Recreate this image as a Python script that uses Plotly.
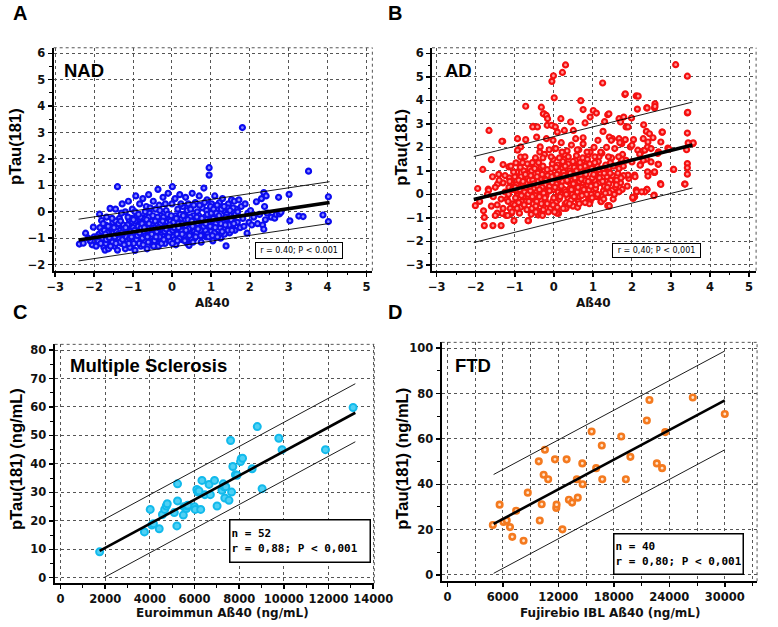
import plotly.graph_objects as go

# ---------------- DATA ----------------
# Panel A (NAD): standardized Aß40 vs pTau(181)
NAD_POINTS = [
    (-2.38,-1.22),(-2.28,-1.19),(-2.22,-0.81),(-2.02,-0.58),(-2.05,-1.25),(-2.1,-1.1),(-2.0,-0.95),(-2.15,-1.0),
    (-1.95,-1.3),(-1.9,-1.1),(-1.88,-0.85),(-1.85,-0.6),(-1.81,-0.33),(-1.86,-0.09),(-1.8,-0.75),(-1.78,-1.0),
    (-1.75,-1.35),(-1.72,-1.45),(-1.7,-0.5),(-1.68,-0.2),(-1.65,-0.9),(-1.62,-1.2),(-1.6,-0.65),(-1.59,0.13),
    (-1.63,-1.4),(-1.7,-1.2),
    (-1.55,-1.05),(-1.52,-0.4),(-1.5,-0.8),(-1.48,-1.3),(-1.45,0.1),(-1.42,-0.6),(-1.4,0.95),(-1.4,-1.45),
    (-1.38,-1.0),(-1.35,-0.25),(-1.33,-0.7),(-1.3,-1.2),(-1.28,0.3),(-1.25,-0.5),(-1.22,-0.9),(-1.2,-1.4),
    (-1.2,0.0),(-1.3,-0.05),(-1.45,-0.35),
    (-1.18,-0.75),(-1.15,-1.1),(-1.12,0.4),(-1.1,-0.3),(-1.08,-1.35),(-1.05,-0.55),(-1.02,0.1),(-1.0,-0.95),
    (-0.98,-1.2),(-0.95,-1.46),(-0.93,0.6),(-0.9,-0.15),(-0.88,-0.7),(-0.85,-1.0),(-0.83,0.3),(-0.82,-0.45),
    (-0.8,-1.3),(-1.0,-0.6),(-0.95,0.0),(-1.1,-0.85),
    (-0.78,-0.85),(-0.75,0.5),(-0.73,-0.25),(-0.7,-1.1),(-0.68,-0.55),(-0.66,0.2),(-0.64,-1.4),(-0.62,-0.7),
    (-0.6,0.65),(-0.58,-0.05),(-0.55,-0.95),(-0.53,-0.35),(-0.5,-1.25),(-0.48,0.4),(-0.46,-0.6),(-0.44,-0.8),
    (-0.42,0.1),(-0.4,-1.05),(-0.7,-0.4),(-0.6,-0.2),
    (-0.38,-0.45),(-0.36,0.85),(-0.35,-1.3),(-0.33,0.25),(-0.3,-0.7),(-0.28,-0.15),(-0.25,-1.0),(-0.23,0.55),
    (-0.2,-0.5),(-0.18,-1.2),(-0.15,0.05),(-0.13,-0.8),(-0.1,0.7),(-0.08,-0.3),(-0.05,-1.1),(-0.03,-0.6),
    (0.0,0.3),(0.01,0.95),(-0.2,-0.9),(-0.12,-0.4),
    (0.03,-0.95),(0.05,-0.2),(0.08,0.5),(0.1,-1.25),(0.12,-0.55),(0.15,0.1),(0.18,-0.75),(0.2,0.65),
    (0.22,-0.35),(0.25,-1.05),(0.28,0.2),(0.3,-0.6),(0.32,-0.1),(0.35,0.55),(0.38,-0.85),(0.4,-1.2),
    (0.1,-0.4),(0.25,-0.25),
    (0.42,0.3),(0.44,-1.27),(0.46,-0.45),(0.5,-0.8),(0.52,0.7),(0.55,-0.15),(0.58,-1.0),(0.6,0.35),
    (0.62,-0.55),(0.65,0.0),(0.68,-0.9),(0.7,0.6),(0.72,-0.3),(0.75,-1.15),(0.78,0.15),(0.8,-0.65),
    (0.55,-0.4),(0.7,-0.5),
    (0.82,0.9),(0.85,-0.2),(0.88,-0.95),(0.9,0.45),(0.93,-0.5),(0.955,1.67),(0.955,1.39),(0.97,-0.1),
    (1.0,-0.75),(1.02,0.3),(1.05,-1.1),(1.08,-0.4),(1.1,0.6),(1.12,-0.2),(1.15,-0.85),(1.18,0.1),
    (1.2,-0.55),(0.9,-0.3),
    (1.22,0.35),(1.25,-1.0),(1.28,-0.3),(1.3,0.5),(1.33,-0.65),(1.36,0.0),(1.39,-1.29),(1.42,-0.45),
    (1.45,0.3),(1.48,-0.8),(1.5,-0.15),(1.53,0.45),(1.55,-0.55),(1.58,-0.2),(1.6,0.4),(1.4,-0.1),
    (1.62,-0.7),(1.65,0.1),(1.68,-0.4),(1.72,0.45),(1.75,-0.6),(1.78,0.2),(1.81,3.19),(1.82,-0.25),
    (1.85,-0.55),(1.88,0.3),(1.93,-0.81),(1.95,-0.05),(1.98,-0.4),
    (2.02,0.05),(2.05,-0.5),(2.1,-0.2),(2.17,0.38),(2.2,-0.45),(2.25,-0.1),(2.3,0.5),(2.33,-0.5),
    (2.36,0.73),(2.36,-0.66),(2.38,0.2),(2.4,-0.3),(2.42,0.6),(2.45,-0.05),
    (2.55,-0.2),(2.64,-0.24),(2.68,-0.1),(2.74,0.55),(2.76,-0.08),(2.8,-0.02),(3.01,0.66),(3.03,-0.34),
    (3.26,-0.16),(3.37,-0.18),(3.51,1.54),(3.88,-0.12),(4.02,0.57),(4.02,-0.37),
    # dense core
    (-1.74,-0.7),(-1.69,-1.05),(-1.66,-0.8),(-1.61,-0.98),
    (-1.57,-0.6),(-1.53,-1.15),(-1.47,-0.95),(-1.43,-0.75),(-1.37,-0.45),(-1.34,-1.15),
    (-1.27,-1.05),(-1.24,-0.65),(-1.17,-0.95),(-1.14,-0.5),(-1.11,-1.2),(-1.06,-0.75),(-1.03,-0.25),
    (-0.97,-0.8),(-0.94,-0.35),(-0.91,-1.05),(-0.87,-0.55),(-0.84,-1.2),(-0.81,-0.2),(-0.79,-0.6),
    (-0.76,-1.0),(-0.72,-0.75),(-0.67,-0.9),(-0.65,-0.3),(-0.61,-1.15),(-0.57,-0.6),(-0.52,-0.85),(-0.49,-0.15),(-0.45,-1.1),
    (-0.39,-0.75),(-0.37,-0.2),(-0.32,-0.95),(-0.29,-0.45),(-0.26,-0.65),(-0.22,-0.2),(-0.19,-0.75),(-0.16,-1.0),
    (-0.14,-0.55),(-0.11,-0.1),(-0.07,-0.8),(-0.04,-0.35),
    (0.02,-0.7),(0.04,-0.4),(0.07,-1.05),(0.09,-0.15),(0.13,-0.85),(0.16,-0.45),(0.19,-1.0),(0.21,-0.1),
    (0.24,-0.7),(0.27,-0.45),(0.31,-0.9),(0.34,-0.3),(0.37,-0.55),(0.39,0.05),
    (0.43,-0.65),(0.47,-0.2),(0.49,-1.0),(0.53,-0.55),(0.57,-0.75),(0.59,-0.3),(0.63,-0.8),(0.66,-0.45),
    (0.69,-0.15),(0.73,-0.7),(0.76,-0.4),(0.79,-0.9),
    (0.83,-0.4),(0.86,-0.7),(0.89,0.05),(0.92,-0.85),(0.96,-0.35),(0.99,0.2),(1.03,-0.55),(1.06,-0.25),
    (1.09,-0.8),(1.13,-0.45),(1.16,0.25),(1.19,-0.3),
    (1.24,-0.6),(1.27,0.1),(1.31,-0.4),(1.35,-0.85),(1.38,-0.2),(1.43,0.15),(1.47,-0.5),(1.52,-0.3),(1.57,0.15),
    (-1.92,-0.95),(-1.83,-1.2),(-1.77,-0.45),(-1.71,-0.85),(-1.64,-0.55),(-1.58,-1.3),(-1.54,-0.25),(-1.49,-0.6),
    (-1.44,-1.2),(-1.39,-0.85),(-1.32,-0.35),(-1.29,-0.8),(-1.23,-1.25),(-1.19,-0.6),(-1.13,-0.2),(-1.09,-1.0),
    (-1.04,-0.95),(-0.99,-0.3),(-0.96,-0.7),(-0.89,-0.9),(-0.86,-0.1),(-0.83,-0.8),(-0.77,-0.45),(-0.74,-1.25),
    (-0.71,-0.6),(-0.69,0.0),(-0.63,-0.95),(-0.59,-0.45),(-0.56,0.15),(-0.51,-0.65),(-0.47,-1.3),(-0.43,-0.35),
    (-0.41,-0.95),(-0.34,-0.6),(-0.31,0.05),(-0.27,-1.2),(-0.24,-0.35),(-0.21,-1.05),(-0.17,0.3),(-0.15,-0.65),
    (-0.09,-0.95),(-0.06,-0.5),(-0.02,-0.15),(0.01,-1.2),(0.06,-0.6),(0.11,-0.25),(0.14,-1.1),(0.17,-0.6),
    (0.23,0.3),(0.26,-0.85),(0.29,-0.15),(0.33,-1.1),(0.36,-0.7),(0.41,-0.3),(0.45,-0.9),(0.48,0.1),
    (0.51,-0.35),(0.54,-1.15),(0.56,0.25),(0.61,-0.95),(0.64,-0.2),(0.67,-0.65),(0.71,0.25),(0.74,-0.9),
    (0.77,-0.25),(0.81,-0.55),(0.84,0.35),(0.87,-0.45),(0.91,-0.1),(0.94,-0.95),(0.98,-0.55),(1.01,-0.05),
    (1.04,-0.9),(1.07,0.1),(1.11,-0.6),(1.14,-0.05),(1.17,-0.95),(1.21,-0.15),(1.26,-0.45),(1.29,-0.75),
    (1.34,0.2),(1.37,-0.5),(1.44,-0.7),(1.49,0.05),(1.54,-0.7),(1.59,-0.45),(1.63,-0.1),(1.69,0.0),
]

# Panel B (AD)
AD_POINTS = [
    # outliers / edges
    (-2.01,-0.48),(-1.82,1.06),(-1.78,-0.98),(-1.68,0.22),(-1.66,2.72),(-1.6,1.48),(-1.56,-1.33),(-1.78,-1.33),
    (-1.35,-1.33),(-1.31,2.26),(-0.72,3.75),(-0.32,3.71),(-0.25,3.43),(-0.53,2.89),(-0.05,4.81),(-0.01,5.05),
    (0.01,4.11),(0.22,5.19),(0.30,5.51),(0.69,3.99),(1.25,4.74),(1.82,4.25),(2.11,4.19),(2.16,4.18),
    (2.58,3.68),(2.38,3.68),(3.12,5.52),(3.42,5.03),(3.42,3.47),(3.42,2.61),(3.42,1.31),(3.42,1.13),
    (3.42,0.86),(3.35,0.44),(3.56,2.16),(3.48,2.16),(3.06,1.06),(2.92,1.97),(2.77,2.65),(2.73,0.46),
    (2.67,1.28),(2.57,0.93),(2.57,-0.03),(2.38,0.21),(2.11,0.18),(2.03,-0.17),(2.07,0.82),(1.74,2.16),
    (1.21,-0.31),(1.41,-0.48),(0.12,-0.81),(-0.4,-0.88),(-0.65,-1.12),(-1.02,-1.12),(0.49,-0.5),
    (-0.27,3.43),(-0.19,3.36),(-0.16,3.22),(0.75,3.61),(1.01,3.57),(1.09,3.46),(0.80,3.04),(0.93,3.29),
    (1.38,3.39),(1.30,3.10),(1.26,2.68),(-0.54,2.87),(-0.42,2.87),(-0.17,2.94),(-0.06,2.94),(0.04,2.87),
    (0.18,3.22),(0.09,2.65),(0.27,2.72),(0.43,3.08),(0.50,2.72),(0.56,2.37),(0.75,2.41),(0.02,1.95),
    (-0.02,2.3),(-0.44,2.44),(-0.35,2.02),(-0.19,2.37),(-0.93,2.37),(-0.72,2.33),(-0.85,2.02),(-1.33,2.26),
    (-0.93,1.88),(-0.85,1.59),(-1.3,1.27),(-1.15,1.17),(-0.97,1.34),(-1.57,0.75),(-1.41,0.85),(-1.44,0.44),
    (-1.3,0.49),(-1.14,0.70),(-1.55,-0.1),(-1.67,0.18),(-1.45,-0.45),(-1.32,-0.81),(-1.09,-0.81),(-0.66,-1.12),
    (-0.34,-0.85),(0.08,-0.8),(0.35,-0.48),(0.93,-0.31),(1.38,-0.48),
    (1.83,4.28),(2.14,3.63),(2.39,3.68),(2.59,3.85),(2.59,3.74),(3.43,3.49),(3.44,2.19),(3.57,2.19),
    (3.40,1.9),(3.07,1.06),(3.36,0.44),(2.74,0.42),(2.78,2.65),(2.95,1.92),(2.74,2.23),(2.68,1.81),
    (2.68,1.28),(2.58,0.93),(2.56,-0.06),(2.39,0.21),(2.33,0.11),(2.25,0.11),(2.12,0.11),(2.07,-0.1),
    (2.4,0.96),(2.41,0.78),(2.58,0.96),(2.30,2.96),(2.37,2.68),(2.45,2.58),(2.54,2.41),(1.67,3.22),
    (1.79,3.29),(1.99,3.25),(1.85,2.87),(1.9,2.87),(1.41,3.43),(1.71,3.08),(2.22,1.27),(2.25,1.83),
    (2.33,1.88),(2.4,2.02),(2.29,2.37),(2.41,2.23),(2.04,2.33),(1.83,2.33),(1.67,2.37),(1.5,2.37),
    (1.42,2.44),(1.96,2.02),(2.0,2.09),(2.15,1.88),(2.2,1.71),(2.49,1.95),(2.66,1.74),(2.49,1.38),
    (2.37,1.5),(2.21,1.24),(2.29,1.45),(2.0,1.38),(1.85,1.45),(1.92,0.68),(2.08,0.75),(1.9,0.82),
    (1.88,0.35),(1.75,0.21),(1.67,0.11),(1.5,0.18),(1.42,0.07),(1.71,0.49),(1.59,0.54),(1.46,0.61),
    (1.42,-0.5),(2.02,-0.13),
    # left region
    (-1.9,-0.3),(-1.8,-0.7),(-1.7,0.0),(-1.6,-0.5),(-1.5,0.3),(-1.45,-0.8),(-1.4,0.6),(-1.35,-0.2),
    (-1.3,-0.6),(-1.25,0.8),(-1.25,0.1),(-1.22,-0.9),(-1.5,-0.9),(-1.95,0.25),
    # dense core
    (-1.18,-0.9),(-1.12,-0.6),(-1.05,-0.4),(-0.98,-0.15),(-0.93,0.05),(-1.15,0.3),(-1.08,0.5),(-1.0,0.75),
    (-0.95,0.95),(-1.1,1.2),(-1.0,-0.45),(-0.92,0.15),(-1.2,-0.2),(-1.16,0.0),(-0.96,0.4),
    (-0.88,-0.8),(-0.85,-0.55),(-0.82,-0.3),(-0.78,-0.1),(-0.75,0.1),(-0.72,0.3),(-0.7,0.5),(-0.67,0.7),
    (-0.65,0.9),(-0.62,1.1),(-0.8,1.35),(-0.74,1.6),(-0.69,-0.65),(-0.87,0.2),(-0.63,0.6),(-0.84,0.75),
    (-0.77,1.0),(-0.66,0.0),
    (-0.58,-0.85),(-0.56,-0.6),(-0.53,-0.4),(-0.5,-0.2),(-0.48,0.0),(-0.45,0.15),(-0.43,0.35),(-0.4,0.55),
    (-0.38,0.75),(-0.35,0.95),(-0.33,1.15),(-0.55,1.35),(-0.47,1.55),(-0.36,1.8),(-0.42,-0.7),(-0.52,0.25),
    (-0.31,0.65),(-0.57,1.0),(-0.44,-0.3),(-0.34,0.05),
    (-0.29,-0.9),(-0.27,-0.65),(-0.25,-0.45),(-0.22,-0.25),(-0.2,-0.05),(-0.18,0.1),(-0.15,0.3),(-0.13,0.5),
    (-0.1,0.7),(-0.08,0.9),(-0.06,1.1),(-0.04,1.3),(-0.02,1.5),(-0.24,1.7),(-0.12,1.9),(-0.03,-0.3),
    (-0.21,0.4),(-0.16,0.8),(-0.28,1.2),(-0.09,-0.6),(-0.01,0.2),(-0.26,0.05),
    (0.02,-0.75),(0.04,-0.5),(0.07,-0.3),(0.09,-0.1),(0.11,0.1),(0.13,0.3),(0.15,0.5),(0.17,0.7),
    (0.2,0.9),(0.22,1.1),(0.24,1.3),(0.26,1.5),(0.28,1.7),(0.05,1.95),(0.19,2.2),(0.27,0.2),
    (0.01,0.6),(0.12,1.0),(0.23,1.4),(0.29,-0.4),(0.08,0.85),(0.18,0.0),
    (0.31,-0.6),(0.33,-0.35),(0.36,-0.15),(0.38,0.05),(0.41,0.25),(0.43,0.45),(0.46,0.65),(0.48,0.85),
    (0.51,1.05),(0.53,1.25),(0.55,1.45),(0.58,1.65),(0.34,1.85),(0.45,2.1),(0.57,0.35),(0.39,0.75),
    (0.52,1.15),(0.59,-0.2),(0.37,1.3),(0.47,0.0),
    (0.61,-0.55),(0.63,-0.3),(0.66,-0.1),(0.68,0.1),(0.71,0.3),(0.73,0.5),(0.76,0.7),(0.78,0.9),
    (0.81,1.1),(0.83,1.3),(0.86,1.5),(0.88,1.7),(0.64,1.9),(0.75,2.15),(0.87,0.4),(0.69,0.8),
    (0.8,1.2),(0.89,-0.2),(0.65,0.55),(0.84,0.0),
    (0.91,-0.4),(0.94,-0.2),(0.96,0.0),(0.99,0.2),(1.01,0.4),(1.04,0.6),(1.06,0.8),(1.09,1.0),
    (1.11,1.2),(1.14,1.4),(1.16,1.6),(0.93,1.8),(1.03,2.0),(1.13,2.3),(1.18,0.5),(0.97,1.1),
    (1.19,0.9),(1.07,0.25),
    (1.21,-0.3),(1.24,-0.1),(1.27,0.15),(1.3,0.35),(1.33,0.55),(1.36,0.75),(1.39,0.95),(1.42,1.15),
    (1.45,1.35),(1.48,1.55),(1.23,1.75),(1.35,2.0),(1.47,2.3),(1.29,0.9),(1.41,0.45),
    (1.52,-0.2),(1.55,0.0),(1.58,0.3),(1.61,0.6),(1.64,0.9),(1.67,1.1),(1.7,1.3),(1.73,1.5),
    (1.76,1.7),(1.56,1.95),(1.69,2.2),(1.79,0.8),
    (-1.06,0.2),(-0.9,-0.35),(-0.8,0.45),(-0.71,-0.3),(-0.6,0.15),(-0.54,0.6),(-0.46,-0.5),(-0.41,0.9),
    (-0.37,-0.1),(-0.3,0.3),(-0.23,0.65),(-0.17,-0.4),(-0.11,0.35),(-0.05,0.75),(0.0,-0.15),(0.06,0.45),
    (0.1,1.25),(0.14,-0.2),(0.21,0.55),(0.25,0.95),(0.3,0.1),(0.35,0.55),(0.4,1.0),(0.44,-0.25),
    (0.5,0.45),(0.56,0.9),(0.6,0.1),(0.67,1.35),(0.72,-0.05),(0.79,0.6),(0.85,1.0),(0.9,0.2),
    (0.98,0.7),(1.05,1.35),(1.1,-0.1),(1.17,0.7),(1.26,1.1),(1.32,0.05),(1.4,1.6),(1.5,0.8),
    (-1.17,-0.3),(-1.13,0.55),(-1.07,-0.75),(-1.03,0.95),(-0.99,0.3),(-0.94,-0.6),(-0.9,0.6),(-0.86,1.15),
    (-0.83,-0.05),(-0.79,0.55),(-0.76,-0.45),(-0.73,0.85),(-0.68,1.3),(-0.64,-0.3),(-0.61,0.35),(-0.59,0.8),
    (-0.55,-0.1),(-0.51,0.45),(-0.49,1.1),(-0.46,-0.75),(-0.43,0.75),(-0.39,1.35),(-0.37,0.2),(-0.32,-0.4),
    (-0.3,0.85),(-0.28,1.55),(-0.23,-0.15),(-0.2,0.6),(-0.17,1.05),(-0.14,-0.75),(-0.11,0.15),(-0.07,1.6),
    (-0.04,0.5),(-0.02,-0.45),(0.03,0.3),(0.06,1.15),(0.09,-0.55),(0.12,0.65),(0.14,1.55),(0.16,-0.1),
    (0.19,0.35),(0.21,1.8),(0.24,-0.6),(0.26,0.8),(0.29,1.2),(0.32,0.0),(0.34,0.6),(0.37,1.6),
    (0.4,-0.4),(0.42,0.9),(0.45,0.2),(0.49,1.4),(0.52,-0.1),(0.54,0.7),(0.58,1.0),(0.6,1.9),
    (0.62,0.3),(0.65,-0.4),(0.68,1.15),(0.7,0.65),(0.74,1.55),(0.77,0.2),(0.8,-0.35),(0.82,0.85),
    (0.85,1.8),(0.88,0.55),(0.92,1.3),(0.95,0.35),(0.98,-0.15),(1.02,0.85),(1.05,1.6),(1.08,0.4),
    (1.12,0.0),(1.15,1.05),(1.2,1.8),(1.25,0.55),(1.28,-0.2),(1.33,1.25),(1.37,0.3),(1.44,0.9),
    (1.53,1.2),(1.6,0.4),(1.66,1.6),(1.72,0.7),(1.78,1.2),
]

# Panel C (Multiple Sclerosis): Euroimmun Aß40 vs pTau(181), ng/mL
MS_X = [1750, 3756, 4015, 4087, 4159, 4418, 4562, 4663, 4735, 4778, 5095, 5210, 5239, 5239,
        5527, 5498, 5642, 5671, 6002, 6031, 6103, 6146, 6276, 6333, 6463, 6650, 6708, 6895,
        7010, 7226, 7284, 7327, 7356, 7543, 7658, 7615, 7716, 7831, 7903, 8090, 8061, 8580,
        8810, 9026, 9775, 9919, 11863, 13101, 5700, 7400, 8150, 6200]
MS_Y = [9.1, 16.1, 24.0, 18.5, 19.0, 17.2, 22.2, 24.0, 25.2, 26.0, 22.9, 18.2, 33.0, 27.0,
        24.9, 22.0, 24.3, 25.2, 24.9, 24.0, 31.0, 30.1, 24.0, 34.2, 29.2, 32.8, 29.2, 34.2,
        25.2, 30.7, 33.0, 31.9, 28.0, 27.2, 30.1, 48.2, 39.1, 36.2, 36.0, 41.8, 40.8, 38.3,
        53.1, 31.3, 49.0, 45.0, 45.0, 59.8, 25.5, 32.0, 42.0, 30.5]

# Panel D (FTD): Fujirebio IBL Aß40 vs pTau(181), ng/mL
FTD_X = [4916, 5650, 6070, 6420, 6770, 7016, 7436, 8240, 8695, 9885, 9990, 10200, 10410, 10550,
         10900, 11635, 11775, 11810, 12440, 12895, 13140, 13490, 14000, 14100, 14590, 14625,
         15600, 16090, 16700, 16750, 18800, 19300, 19790, 21570, 21850, 22650, 23220, 23560,
         26540, 30000]
FTD_Y = [22.0, 31.0, 23.4, 24.0, 21.1, 16.8, 28.3, 15.1, 36.3, 50.1, 24.0, 31.2, 44.2, 55.2,
         42.2, 51.0, 29.6, 31.0, 20.1, 51.0, 33.2, 31.9, 42.2, 34.1, 49.2, 40.0, 63.3, 47.1,
         57.1, 42.2, 61.1, 42.2, 52.1, 68.1, 77.2, 49.2, 47.1, 63.0, 78.3, 71.0]

# Regression lines: intercept, slope, half-width of band, x start, x end
FIT_A = (-0.542, 0.22, 0.79, -2.4, 4.05)
FIT_B = (0.629, 0.414, 1.83, -2.05, 3.55)
FIT_C = (2.0, 0.00424, 10.2, 1750, 13200)
FIT_D = (11.6, 0.00218, 21.8, 5000, 30000)
LOWER_START = {"C": 1950}

STATS = {
    "A": "r = 0.40; P < 0.001",
    "B": "r = 0,40; P < 0,001",
    "C": "n = 52<br>r = 0,88; P < 0,001",
    "D": "n = 40<br>r = 0,80; P < 0,001",
}
GROUPS = {"A": "NAD", "B": "AD", "C": "Multiple Sclerosis", "D": "FTD"}

# ---------------- FIGURE ----------------
W, H = 778, 627


def px(x):
    return x / W


def py(y):
    return 1 - y / H


fig = go.Figure()

panels = [
    ("A", "x", "y", [p[0] for p in NAD_POINTS], [p[1] for p in NAD_POINTS], FIT_A,
     dict(symbol="circle", size=5, color="#8c8cff", line=dict(width=2.2, color="#0c0cf0"))),
    ("B", "x2", "y2", [p[0] for p in AD_POINTS], [p[1] for p in AD_POINTS], FIT_B,
     dict(symbol="circle", size=5, color="#ff9a9a", line=dict(width=2.2, color="#f51010"))),
    ("C", "x3", "y3", MS_X, MS_Y, FIT_C,
     dict(symbol="circle", size=7, color="#4fd0f4", line=dict(width=2, color="#12baec"))),
    ("D", "x4", "y4", FTD_X, FTD_Y, FIT_D,
     dict(symbol="circle", size=5.5, color="#ffe3cc", line=dict(width=2.6, color="#f47a1f"))),
]

for key, xa, ya, xs, ys, fit, mk in panels:
    b0, b1, band, x0, x1 = fit
    fig.add_trace(go.Scatter(x=xs, y=ys, mode="markers", marker=mk, xaxis=xa, yaxis=ya,
                             showlegend=False, hoverinfo="skip"))
    thick = 3.6 if key in ("A", "B") else 2.6
    fig.add_trace(go.Scatter(x=[x0, x1], y=[b0 + b1 * x0, b0 + b1 * x1], mode="lines",
                             line=dict(color="black", width=thick), xaxis=xa, yaxis=ya,
                             showlegend=False, hoverinfo="skip"))
    fig.add_trace(go.Scatter(x=[x0, x1], y=[b0 + b1 * x0 + band, b0 + b1 * x1 + band], mode="lines",
                             line=dict(color="black", width=0.9), xaxis=xa, yaxis=ya,
                             showlegend=False, hoverinfo="skip"))
    lx0 = LOWER_START.get(key, x0)
    fig.add_trace(go.Scatter(x=[lx0, x1], y=[b0 + b1 * lx0 - band, b0 + b1 * x1 - band], mode="lines",
                             line=dict(color="black", width=0.9), xaxis=xa, yaxis=ya,
                             showlegend=False, hoverinfo="skip"))

TICKFONT = dict(family="DejaVu Sans", size=11.5, color="#111", weight="bold")


def ax(domain, rng, dtick, minor_dtick, minor_grid=False, anchor=None):
    d = dict(domain=domain, range=rng, dtick=dtick, tick0=0, showline=True, linecolor="black",
             linewidth=2, ticks="outside", ticklen=4, tickwidth=1.5, tickcolor="black",
             showgrid=True, gridcolor="#555", griddash="dot", gridwidth=1, zeroline=False,
             tickfont=TICKFONT, fixedrange=True, tickformat="d",
             minor=dict(dtick=minor_dtick, tick0=0, ticks="outside", ticklen=2.5, tickwidth=1,
                        tickcolor="black", showgrid=minor_grid, gridcolor="#555", griddash="dot",
                        gridwidth=1))
    if anchor:
        d["anchor"] = anchor
    return d


dA_x = [px(48.3), px(378)]
dA_y = [py(271), py(47)]
dB_x = [px(439.7), px(775)]
dC_x = [px(49.3), px(380)]
dC_y = [py(585), py(345)]
dD_x = [px(449.7), px(776)]
dD_y = [py(583), py(343)]

fig.update_layout(
    width=W, height=H, autosize=False,
    margin=dict(l=0, r=0, t=0, b=0),
    paper_bgcolor="white", plot_bgcolor="white",
    showlegend=False,
    xaxis=ax(dA_x, [-3.04, 5.15], 1, 0.5, anchor="y"),
    yaxis=ax(dA_y, [-2.23, 6.21], 1, 0.5, anchor="x"),
    xaxis2=ax(dB_x, [-3.12, 5.18], 1, 0.5, anchor="y2"),
    yaxis2=ax(dA_y, [-3.25, 6.24], 1, 0.5, anchor="x2"),
    xaxis3=ax(dC_x, [-264, 14050], 2000, 1000, anchor="y3"),
    yaxis3=ax(dC_y, [-1.92, 82.0], 10, 5, anchor="x3"),
    xaxis4=ax(dD_x, [-617, 33490], 6000, 3000, minor_grid=True, anchor="y4"),
    yaxis4=ax(dD_y, [-2.77, 102.6], 20, 10, anchor="x4"),
)

# dotted frame on top and right side of each panel
shapes = []
for xa, ya in [("x", "y"), ("x2", "y2"), ("x3", "y3"), ("x4", "y4")]:
    for (a, b, c, d) in [(0, 1, 1, 1), (1, 1, 0, 1)]:
        shapes.append(dict(type="line", xref=f"{xa} domain", yref=f"{ya} domain",
                           x0=a, x1=b, y0=c, y1=d, line=dict(color="#555", width=1, dash="dot")))
fig.update_layout(shapes=shapes)

ann = []
LET = dict(family="Liberation Sans", size=20, color="black", weight="bold")
for t, x, y in [("A", 13, 12), ("B", 401, 12), ("C", 13, 312), ("D", 401, 312)]:
    ann.append(dict(text=t, x=px(x), y=py(y), xref="paper", yref="paper", showarrow=False,
                    xanchor="center", yanchor="middle", font=LET))

GF = dict(family="Liberation Sans", size=18.5, color="black", weight="bold")
for key, x, y in [("A", 57, 70), ("B", 451, 70), ("C", 63, 366), ("D", 461, 366)]:
    ann.append(dict(text=GROUPS[key], x=px(x), y=py(y), xref="paper", yref="paper",
                    showarrow=False, xanchor="left", yanchor="middle", font=GF))

YT = dict(family="Liberation Sans", size=16.5, color="black", weight="bold")
for t, x, y in [("pTau(181)", 9, 146), ("pTau(181)", 408, 147),
                ("pTau(181) (ng/mL)", 9.5, 460), ("pTau(181) (ng/mL)", 408.5, 460)]:
    ann.append(dict(text=t, x=px(x), y=py(y), xref="paper", yref="paper", showarrow=False,
                    textangle=-90, xanchor="center", yanchor="middle", font=YT))

XT = dict(family="DejaVu Sans", size=12, color="#111", weight="bold")
for t, x, y in [("Aß40", 213, 303), ("Aß40", 607, 303),
                ("Euroimmun Aß40 (ng/mL)", 222.5, 615), ("Fujirebio IBL Aß40 (ng/mL)", 624, 615)]:
    ann.append(dict(text=t, x=px(x), y=py(y), xref="paper", yref="paper", showarrow=False,
                    xanchor="center", yanchor="middle", font=XT))

SF = dict(family="DejaVu Sans", size=8, color="black")
for key, x, y, w, h in [("A", 302, 250.5, 88, 17), ("B", 671.5, 250.5, 89, 15)]:
    ann.append(dict(text=STATS[key], x=px(x), y=py(y), xref="paper", yref="paper",
                    showarrow=False, xanchor="center", yanchor="middle", font=SF,
                    bordercolor="black", borderwidth=1, borderpad=2, bgcolor="white",
                    width=w - 6, height=h - 6))
SF2 = dict(family="DejaVu Sans Mono", size=11, color="black", weight="bold")
for key, x, y, w, h in [("C", 303, 543, 142, 44), ("D", 694.2, 555.5, 131, 42)]:
    ann.append(dict(text=STATS[key], x=px(x), y=py(y), xref="paper", yref="paper",
                    showarrow=False, xanchor="center", yanchor="middle", font=SF2, align="left",
                    bordercolor="black", borderwidth=1.5, borderpad=1, bgcolor="white",
                    width=w - 5, height=h - 5))

fig.update_layout(annotations=ann)
fig.write_html("out.html",
               config={"displayModeBar": False, "staticPlot": True},
               post_script="document.body.style.margin='0';document.body.style.padding='0';"
                           "document.documentElement.style.overflow='hidden';")
